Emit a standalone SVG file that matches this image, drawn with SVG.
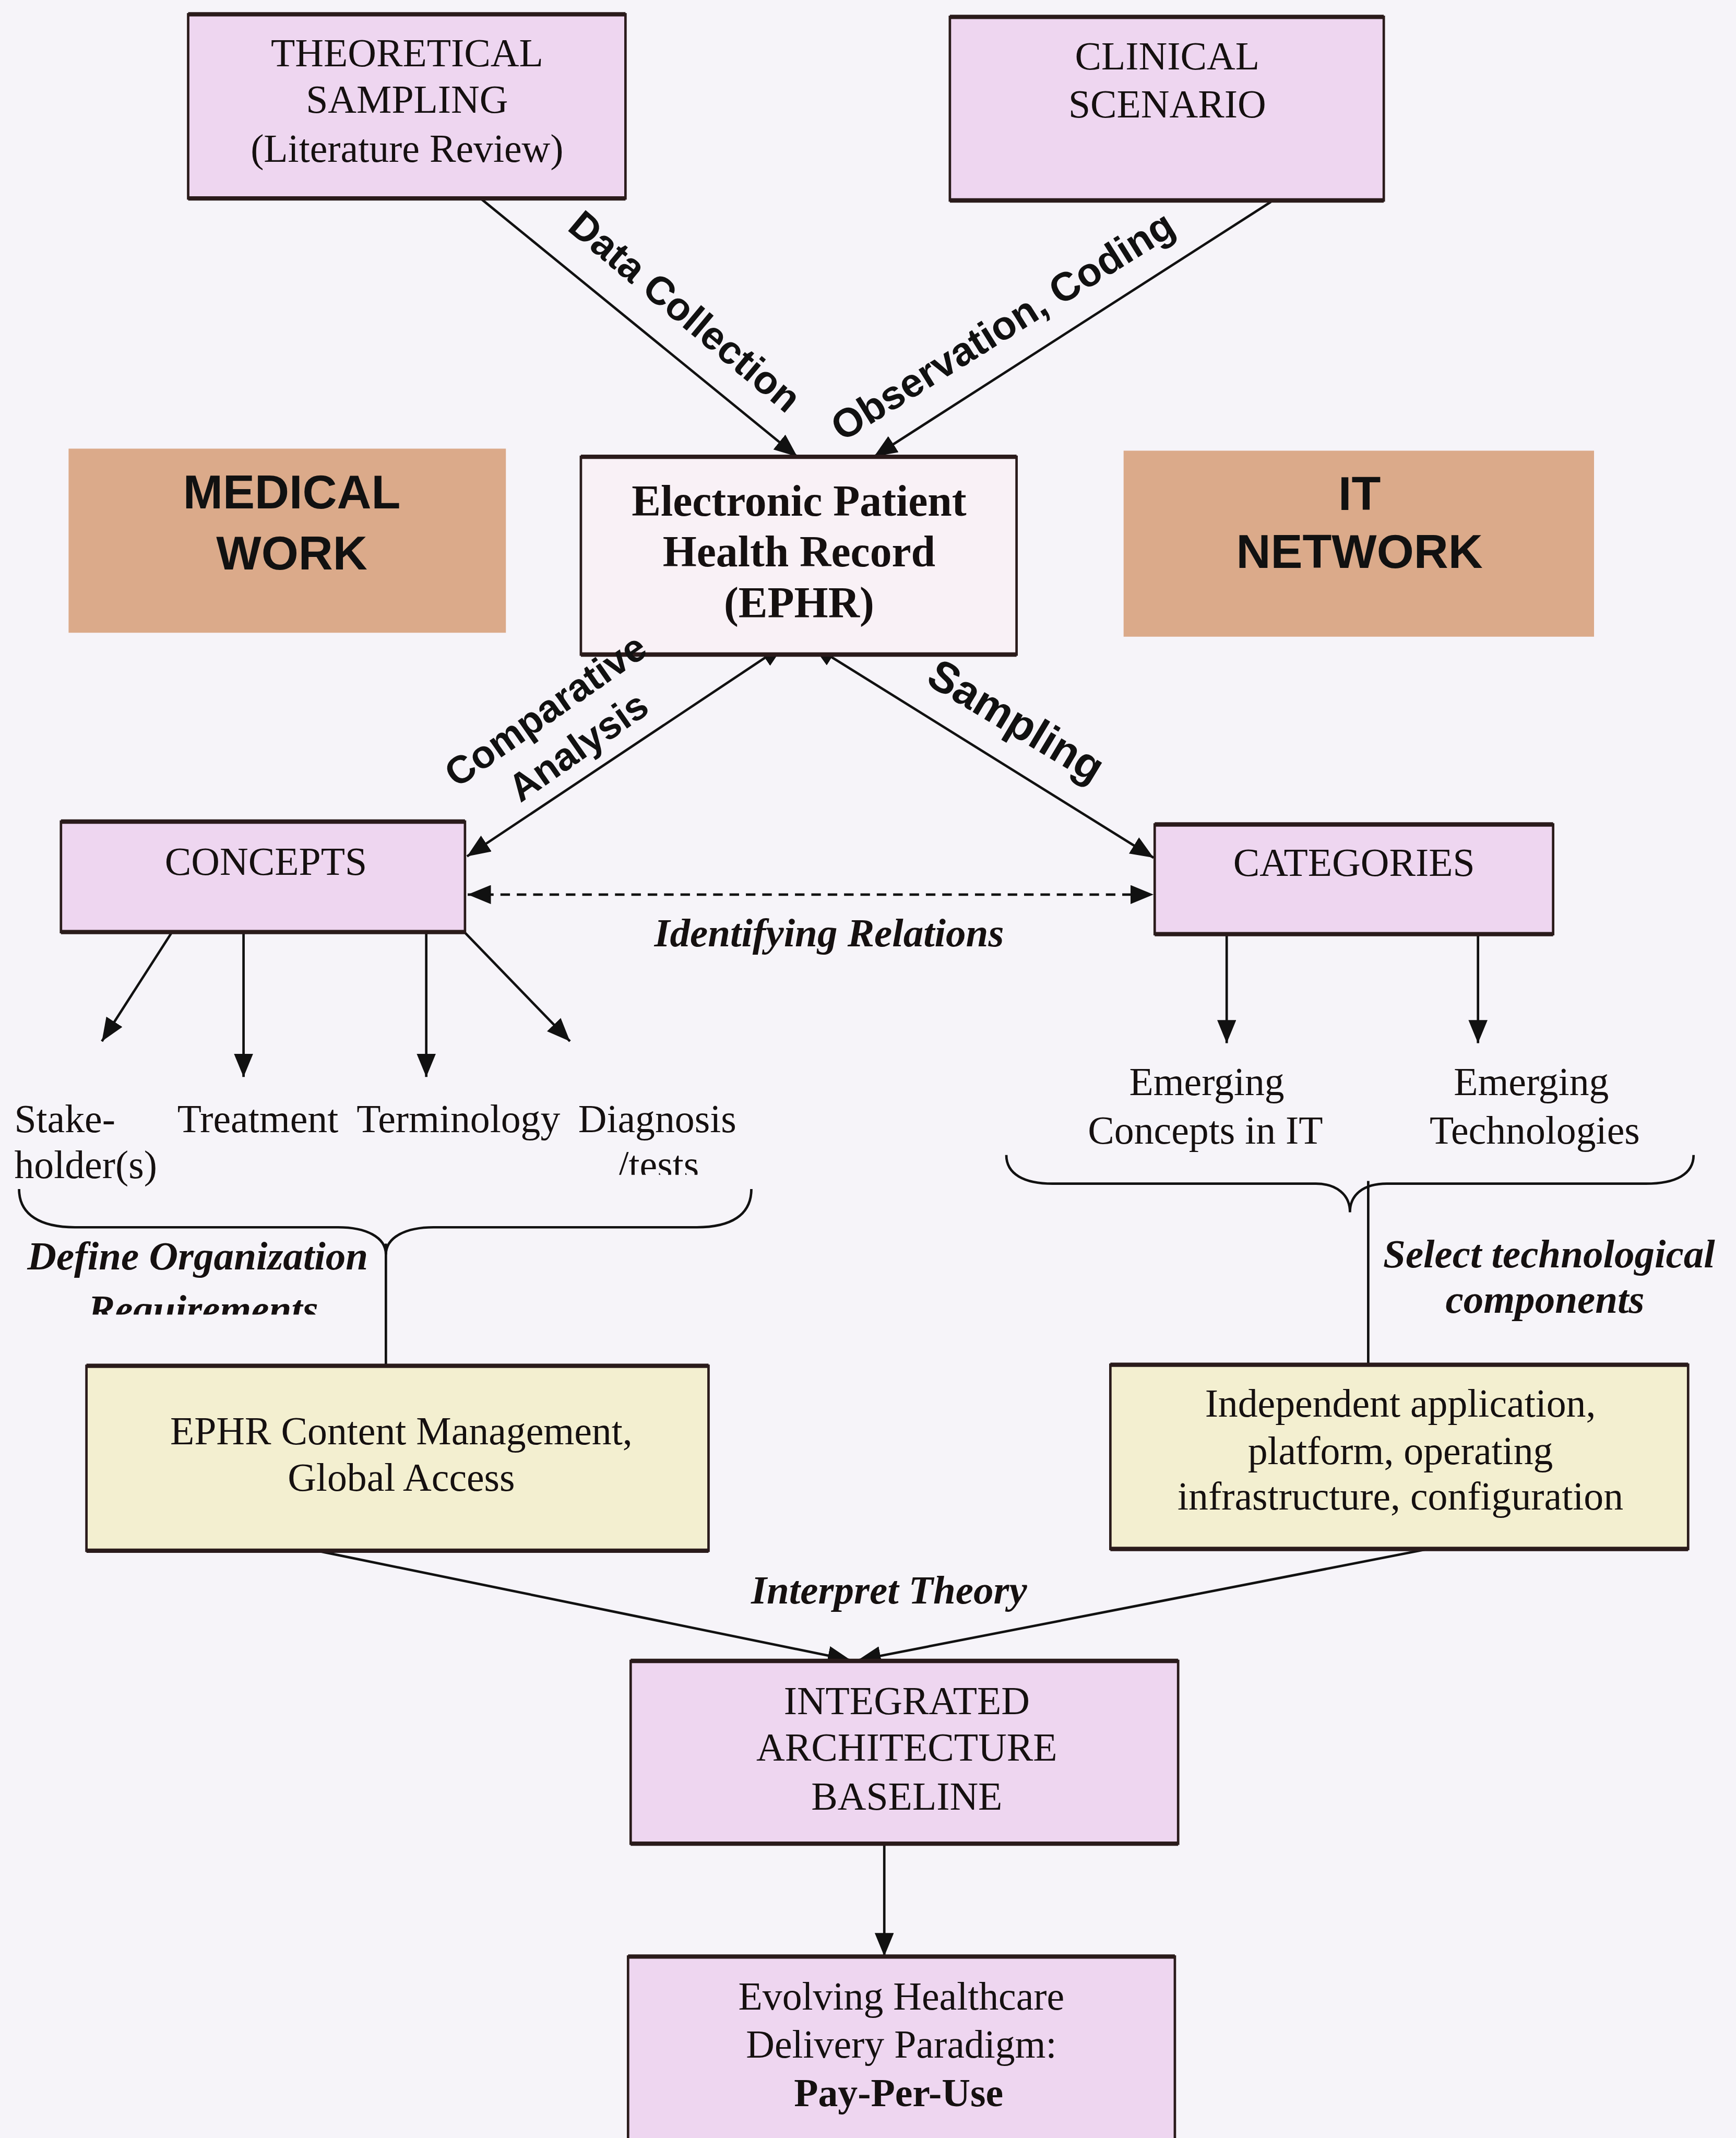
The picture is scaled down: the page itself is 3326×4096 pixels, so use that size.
<svg xmlns="http://www.w3.org/2000/svg" width="3326" height="4096" viewBox="0 0 3326 4096">
<defs>
<style>
.bx{stroke:#2a1b1b;stroke-width:1.8}
.lilac{fill:#eed6f0}
.tan{fill:#dbaa8a}
.yel{fill:#f3efd0}
.eph{fill:#f9f1f6}
.edge{stroke:#2a1b1b;stroke-width:3.2;fill:none}
.t{font-family:"Liberation Serif","Times New Roman",serif;font-size:29px;fill:#151010;text-anchor:middle}
.ts{font-family:"Liberation Serif","Times New Roman",serif;font-size:29px;fill:#151010}
.tb{font-family:"Liberation Serif","Times New Roman",serif;font-size:32px;font-weight:bold;fill:#151010;text-anchor:middle}
.bi{font-family:"Liberation Serif","Times New Roman",serif;font-size:29.5px;font-weight:bold;font-style:italic;fill:#151010}
.big{font-family:"Liberation Sans",Arial,sans-serif;font-size:35px;font-weight:bold;fill:#111;text-anchor:middle}
.lbl{font-family:"Liberation Sans",Arial,sans-serif;font-weight:bold;fill:#111;text-anchor:middle}
.c{stroke:#111;stroke-width:1.8;fill:none}
</style>
<marker id="ah" viewBox="0 0 17 14" refX="17" refY="7" markerWidth="17" markerHeight="14" orient="auto-start-reverse" markerUnits="userSpaceOnUse"><path d="M0,0 L17,7 L0,14 z" fill="#111"/></marker>
<clipPath id="clipTests"><rect x="400" y="830" width="200" height="31.5"/></clipPath>
<clipPath id="clipReq"><rect x="0" y="935" width="300" height="29"/></clipPath>
</defs>
<rect x="0" y="0" width="3326" height="4096" fill="#f6f4f9"/>
<g transform="scale(2.6125)">
<g id="connectors">
<line class="c" x1="353" y1="146" x2="584.7" y2="334.9" marker-end="url(#ah)"/>
<line class="c" x1="932" y1="148" x2="640.9" y2="334.9" marker-end="url(#ah)"/>
<line class="c" x1="575" y1="473" x2="342.5" y2="628" marker-start="url(#ah)" marker-end="url(#ah)"/>
<line class="c" x1="595.6" y1="473" x2="846" y2="629" marker-start="url(#ah)" marker-end="url(#ah)"/>
<line class="c" x1="343" y1="656" x2="846" y2="656" stroke-width="2.5" stroke-dasharray="7 5" marker-start="url(#ah)" marker-end="url(#ah)"/>
<line class="c" x1="125.8" y1="684" x2="74.7" y2="763.6" marker-end="url(#ah)"/>
<line class="c" x1="178.6" y1="684" x2="178.6" y2="789.8" marker-end="url(#ah)"/>
<line class="c" x1="312.6" y1="684" x2="312.6" y2="789.8" marker-end="url(#ah)"/>
<line class="c" x1="341" y1="684" x2="418" y2="763.6" marker-end="url(#ah)"/>
<line class="c" x1="899.6" y1="685" x2="899.6" y2="765" marker-end="url(#ah)"/>
<line class="c" x1="1083.9" y1="685" x2="1083.9" y2="765" marker-end="url(#ah)"/>
<path class="c" d="M14,872 C14,891 30,900 55,900 L248,900 C268,900 283,907 283,920 C283,907 298,900 318,900 L511,900 C536,900 551,891 551,872"/>
<line class="c" x1="283" y1="912" x2="283" y2="1001.6"/>
<path class="c" d="M738,847 C738,861 751,868 772,868 L965,868 C980,868 990,876 990,889 C990,876 1000,868 1017,868 L1207,868 C1229,868 1242,861 1242,847"/>
<line class="c" x1="1003.4" y1="866" x2="1003.4" y2="1000.8"/>
<line class="c" stroke-width="2.2" x1="231.4" y1="1137" x2="624" y2="1217.5" marker-end="url(#ah)"/>
<line class="c" stroke-width="2.2" x1="1047" y1="1136" x2="629" y2="1217.5" marker-end="url(#ah)"/>
<line class="c" x1="648.5" y1="1352" x2="648.5" y2="1434.5" marker-end="url(#ah)"/>
</g>
<g id="theoretical-sampling">
<rect class="bx lilac" x="138" y="10.5" width="320.7" height="135"/>
<path class="edge" d="M138,10.5 H458.7 M138,145.5 H458.7"/>
<text class="t" x="298.5" y="48.6">THEORETICAL</text>
<text class="t" x="298.5" y="82.5">SAMPLING</text>
<text class="t" x="298.5" y="118.7">(Literature Review)</text>
</g>
<g id="clinical-scenario">
<rect class="bx lilac" x="696.6" y="12.4" width="318.2" height="134.6"/>
<path class="edge" d="M696.6,12.4 H1014.8 M696.6,147 H1014.8"/>
<text class="t" x="856" y="51">CLINICAL</text>
<text class="t" x="856" y="86">SCENARIO</text>
</g>
<g id="medical-work">
<rect class="tan" x="50.3" y="329" width="320.7" height="135"/>
<text class="big" x="214" y="373">MEDICAL</text>
<text class="big" x="214" y="417.5">WORK</text>
</g>
<g id="ephr">
<rect class="bx eph" x="426" y="335" width="319.5" height="145"/>
<path class="edge" d="M426,335 H745.5 M426,480 H745.5"/>
<text class="tb" x="586" y="378">Electronic Patient</text>
<text class="tb" x="586" y="415.5">Health Record</text>
<text class="tb" x="586" y="453">(EPHR)</text>
</g>
<g id="it-network">
<rect class="tan" x="824" y="330.5" width="345" height="136.4"/>
<text class="big" x="997" y="374">IT</text>
<text class="big" x="997" y="416.5">NETWORK</text>
</g>
<g id="concepts">
<rect class="bx lilac" x="44.7" y="602.5" width="296.3" height="81"/>
<path class="edge" d="M44.7,602.5 H341 M44.7,683.5 H341"/>
<text class="t" x="195" y="641.7">CONCEPTS</text>
</g>
<g id="categories">
<rect class="bx lilac" x="846.8" y="604.6" width="292.2" height="80.4"/>
<path class="edge" d="M846.8,604.6 H1139 M846.8,685 H1139"/>
<text class="t" x="993" y="642.4">CATEGORIES</text>
</g>
<g id="stakeholders"><text class="ts" x="10.5" y="830.3">Stake-</text><text class="ts" x="10.5" y="864">holder(s)</text></g>
<g id="treatment"><text class="ts" x="130" y="830.3">Treatment</text></g>
<g id="terminology"><text class="ts" x="261.5" y="830.3">Terminology</text></g>
<g id="diagnosis"><text class="ts" x="424" y="830.3">Diagnosis</text><text class="ts" x="453" y="864" clip-path="url(#clipTests)">/tests</text></g>
<g id="emerging-concepts"><text class="t" x="885" y="803">Emerging</text><text class="t" x="884" y="838.6">Concepts in IT</text></g>
<g id="emerging-technologies"><text class="t" x="1123" y="803">Emerging</text><text class="t" x="1125.5" y="838.6">Technologies</text></g>
<g id="ephr-content">
<rect class="bx yel" x="63.4" y="1001.6" width="456.2" height="135.6"/>
<path class="edge" d="M63.4,1001.6 H519.6 M63.4,1137.2 H519.6"/>
<text class="t" x="294.3" y="1059">EPHR Content Management,</text>
<text class="t" x="294.3" y="1093.3">Global Access</text>
</g>
<g id="independent-application">
<rect class="bx yel" x="814.3" y="1000.8" width="423.7" height="135.1"/>
<path class="edge" d="M814.3,1000.8 H1238 M814.3,1135.9 H1238"/>
<text class="t" x="1027" y="1039">Independent application,</text>
<text class="t" x="1027" y="1073.6">platform, operating</text>
<text class="t" x="1027" y="1107">infrastructure, configuration</text>
</g>
<g id="integrated-architecture">
<rect class="bx lilac" x="462.5" y="1218" width="401.5" height="134"/>
<path class="edge" d="M462.5,1218 H864 M462.5,1352 H864"/>
<text class="t" x="665" y="1257">INTEGRATED</text>
<text class="t" x="665" y="1291">ARCHITECTURE</text>
<text class="t" x="665" y="1327">BASELINE</text>
</g>
<g id="evolving-healthcare">
<rect class="bx lilac" x="460.6" y="1434.8" width="401" height="160"/>
<path class="edge" d="M460.6,1434.8 H861.6"/>
<text class="t" x="661" y="1473.7">Evolving Healthcare</text>
<text class="t" x="661" y="1509">Delivery Paradigm:</text>
<text class="t" x="659" y="1544.4" font-weight="bold">Pay-Per-Use</text>
</g>
<g id="edge-labels">
<text class="lbl" font-size="29" transform="translate(496,236) rotate(40)">Data Collection</text>
<text class="lbl" font-size="29.5" transform="translate(740.6,247.5) rotate(-32)">Observation, Coding</text>
<text class="lbl" font-size="28.5" transform="translate(405.6,528.8) rotate(-35)">Comparative</text>
<text class="lbl" font-size="28.5" transform="translate(429.6,555.4) rotate(-35)">Analysis</text>
<text class="lbl" font-size="32" transform="translate(739.6,537.9) rotate(31)">Sampling</text>
<text class="bi" x="608" y="693.8" text-anchor="middle">Identifying Relations</text>
<text class="bi" x="20" y="931">Define Organization</text>
<text class="bi" x="149" y="970" text-anchor="middle" clip-path="url(#clipReq)">Requirements</text>
<text class="bi" x="1136" y="929.4" text-anchor="middle">Select technological</text>
<text class="bi" x="1133" y="962.6" text-anchor="middle">components</text>
<text class="bi" x="652" y="1176" text-anchor="middle">Interpret Theory</text>
</g>
</g>
</svg>
